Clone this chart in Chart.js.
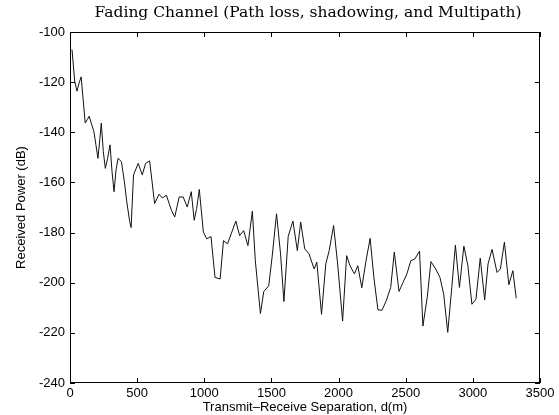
<!DOCTYPE html>
<html>
<head>
<meta charset="utf-8">
<script src="https://cdn.jsdelivr.net/npm/chart.js@4.4.0/dist/chart.umd.min.js"></script>
<style>
body{margin:0;background:#fff;}
canvas{display:block;}
</style>
</head>
<body>
<canvas id="fading" width="559" height="415"></canvas>
<script>
// distance (m) and received power (dB)
let dist=[15,35,52,68,83,98,113,128,143,158,178,193,208,223,233,248,263,280,298,313,328,343,358,383,405,423,443,455,473,508,
  538,563,593,630,663,688,718,755,780,813,843,873,903,925,943,963,993,1018,1050,1080,1118,1143,1173,1205,1235,1263,1293,1325,1358,1380,
  1418,1443,1480,1505,1538,1568,1593,1625,1660,1693,1718,1748,1780,1818,1838,1873,1905,1930,1963,1993,2030,2060,2085,2118,2143,2173,2205,2235,2263,2293,
  2323,2355,2388,2415,2450,2480,2510,2538,2568,2603,2628,2660,2688,2723,2755,2783,2813,2843,2870,2900,2933,2963,2993,3023,3055,3088,3113,3143,3180,3205,
  3235,3268,3298,3323];
let power=[-107,-119.6,-123.6,-120.3,-117.9,-127,-136.3,-135,-133.6,-136.3,-139.7,-145,-150.4,-142.3,-136.3,-147.7,-154.4,-150.4,-145,-155.7,
  -163.7,-155,-150.4,-151.7,-159.7,-167.8,-175.1,-178,-157,-152.4,-157,-152.4,-151.4,-168.4,-164.7,-166.2,-165.1,-171.1,-173.8,-165.8,
  -165.8,-169.8,-163.7,-175.1,-170.4,-162.8,-179.8,-182.5,-181.6,-197.9,-198.5,-183.2,-184.5,-179.8,-175.4,-181.2,-179.2,-185.2,-171.4,-191.2,
  -212.3,-203.5,-201.2,-189.8,-172.5,-188.5,-207.5,-181.5,-175.4,-187.2,-175.8,-186.5,-188.5,-194.5,-191.8,-212.6,-192.5,-187.2,-177.2,-192.5,
  -215.3,-189.2,-193.2,-196.5,-193.2,-202,-191,-182.3,-197.9,-210.8,-211,-207.2,-201.9,-187.8,-203.5,-199.9,-196.3,-191.2,-190.5,-187.4,
  -217.3,-205.9,-191.6,-194.5,-197.9,-204.6,-219.8,-201.9,-185,-201.9,-185.4,-193.2,-208.6,-206.6,-190.2,-206.9,-192.5,-186.7,-195.9,-194.5,
  -183.8,-200.8,-195.2,-206.2];
let xTicks=[0,500,1000,1500,2000,2500,3000,3500];
let yTicks=[-240,-220,-200,-180,-160,-140,-120,-100];

let pts=[];
for(let i=0;i<dist.length;++i){
  pts.push({x:dist[i],y:power[i]});
}

// matlab style box, inward ticks and serif title
let matlabBox={
  id:'matlabBox',
  afterDraw(chart){
    let ctx=chart.ctx;
    let a=chart.chartArea;
    let xs=chart.scales.x, ys=chart.scales.y;
    ctx.save();
    ctx.strokeStyle='#000';
    ctx.lineWidth=1;
    ctx.strokeRect(a.left+0.5,a.top+0.5,a.right-a.left-1,a.bottom-a.top-1);
    ctx.beginPath();
    for(let v of xTicks){
      let px=Math.round(xs.getPixelForValue(v))+0.5;
      ctx.moveTo(px,a.bottom);ctx.lineTo(px,a.bottom-5);
      ctx.moveTo(px,a.top);ctx.lineTo(px,a.top+5);
    }
    for(let v of yTicks){
      let py=Math.round(ys.getPixelForValue(v))+0.5;
      ctx.moveTo(a.left,py);ctx.lineTo(a.left+5,py);
      ctx.moveTo(a.right,py);ctx.lineTo(a.right-5,py);
    }
    ctx.stroke();
    ctx.fillStyle='#000';
    ctx.font='15.5px "DejaVu Serif"';
    ctx.textAlign='center';
    ctx.textBaseline='middle';
    ctx.fillText('Fading Channel (Path loss, shadowing, and Multipath)',(a.left+a.right)/2+3,13);
    ctx.restore();
  }
};

new Chart(document.getElementById('fading'),{
  type:'line',
  data:{
    datasets:[{
      data:pts,
      borderColor:'#111',
      borderWidth:1,
      pointRadius:0,
      tension:0,
      fill:false
    }]
  },
  options:{
    responsive:false,
    animation:false,
    layout:{padding:{top:32,right:19,left:0,bottom:0}},
    plugins:{legend:{display:false},tooltip:{enabled:false}},
    scales:{
      x:{
        type:'linear',
        min:0,max:3500,
        afterBuildTicks(s){s.ticks=xTicks.map(v=>({value:v}));},
        afterFit(s){s.height=32;},
        grid:{drawOnChartArea:false,drawTicks:false},
        border:{display:false},
        ticks:{color:'#000',padding:3,maxRotation:0,callback:v=>String(v),font:{family:'Liberation Sans',size:13}},
        title:{display:true,text:'Transmit–Receive Separation, d(m)',color:'#000',padding:{top:0,bottom:0},font:{family:'Liberation Sans',size:13}}
      },
      y:{
        type:'linear',
        min:-240,max:-100,
        afterBuildTicks(s){s.ticks=yTicks.map(v=>({value:v}));},
        afterFit(s){s.width=70;},
        grid:{drawOnChartArea:false,drawTicks:false},
        border:{display:false},
        ticks:{color:'#000',padding:5,callback:v=>String(v),font:{family:'Liberation Sans',size:13}},
        title:{display:true,text:'Received Power (dB)',color:'#000',padding:{top:14,bottom:0},font:{family:'Liberation Sans',size:13}}
      }
    }
  },
  plugins:[matlabBox]
});
</script>
</body>
</html>
